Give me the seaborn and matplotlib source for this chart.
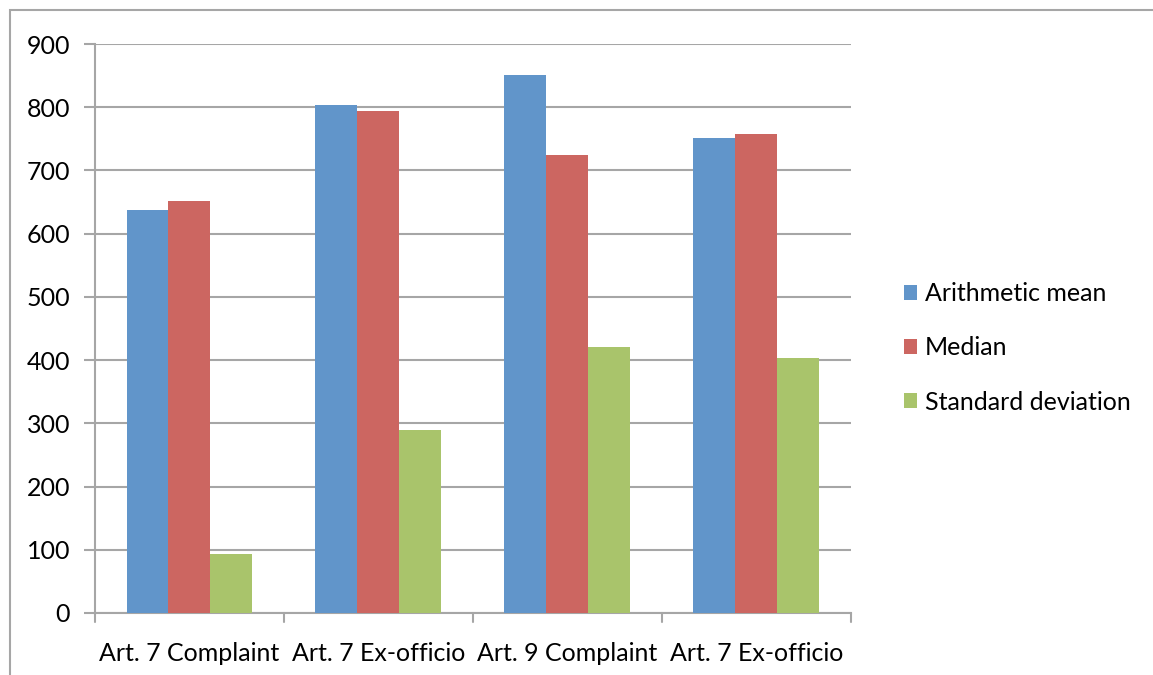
import matplotlib
matplotlib.use("Agg")
import matplotlib.pyplot as plt
import pandas as pd
import seaborn as sns
from matplotlib.patches import Rectangle

# category keys must be unique for seaborn; the last group repeats a label
categories = ["c1", "c2", "c3", "c4"]
tick_labels = ["Art. 7 Complaint", "Art. 7 Ex-officio", "Art. 9 Complaint", "Art. 7 Ex-officio"]
series = ["Arithmetic mean", "Median", "Standard deviation"]
mean_vals = [638, 804, 851, 751]
median_vals = [652, 794, 725, 757]
sd_vals = [94, 290, 420, 403]
colors = ["#6195CA", "#CC6661", "#A9C46B"]
yticks = list(range(0, 1000, 100))

rows = []
for name, vals in zip(series, [mean_vals, median_vals, sd_vals]):
    for cat, v in zip(categories, vals):
        rows.append({"category": cat, "series": name, "value": v})
df = pd.DataFrame(rows)

sns.set_style("white")
plt.rcParams["font.family"] = ["Lato", "DejaVu Sans"]
plt.rcParams["text.color"] = "black"

fig = plt.figure(figsize=(11.53, 6.75), dpi=100)
ax = fig.add_axes([0.0824, 0.0919, 0.6556, 0.8429])

sns.barplot(data=df, x="category", y="value", hue="series", order=categories,
            hue_order=series, palette=colors, width=2 / 3, saturation=1,
            edgecolor="none", linewidth=0, ax=ax, zorder=3)

grid_c = "#A6A6A6"
fs = 18
ax.set_ylim(0, 900)
ax.set_xlim(-0.5, 3.5)
ax.set_yticks(yticks)
ax.yaxis.grid(True, color=grid_c, linewidth=1.5, zorder=0)
ax.set_axisbelow(True)
for s in ["top", "right"]:
    ax.spines[s].set_visible(False)
for s in ["left", "bottom"]:
    ax.spines[s].set_color(grid_c)
    ax.spines[s].set_linewidth(1.5)

ax.tick_params(axis="y", length=8, width=1.5, color=grid_c, labelcolor="black",
               labelsize=fs, pad=10, left=True)
ax.set_xticks(range(4))
ax.set_xticklabels(tick_labels)
ax.tick_params(axis="x", length=0, labelcolor="black", labelsize=fs, pad=21)
for b in [-0.5, 0.5, 1.5, 2.5, 3.5]:
    ax.plot([b, b], [0, -14], color=grid_c, linewidth=1.5, clip_on=False)
ax.set_ylim(0, 900)
ax.set_xlabel("")
ax.set_ylabel("")

handles, labels = ax.get_legend_handles_labels()
leg = ax.legend(handles, labels, loc="center left", bbox_to_anchor=(1.04, 0.466),
                frameon=False, fontsize=fs, handlelength=0.55, handleheight=0.55,
                handletextpad=0.3, labelspacing=1.25)
for t in leg.get_texts():
    t.set_color("black")

fig.patches.append(Rectangle((10 / 1153, -0.1), 1.2, 1 - 10 / 675 + 0.1,
                             transform=fig.transFigure, fill=False,
                             edgecolor=grid_c, linewidth=1.5, zorder=0))

fig.savefig("out.png", dpi=100)
